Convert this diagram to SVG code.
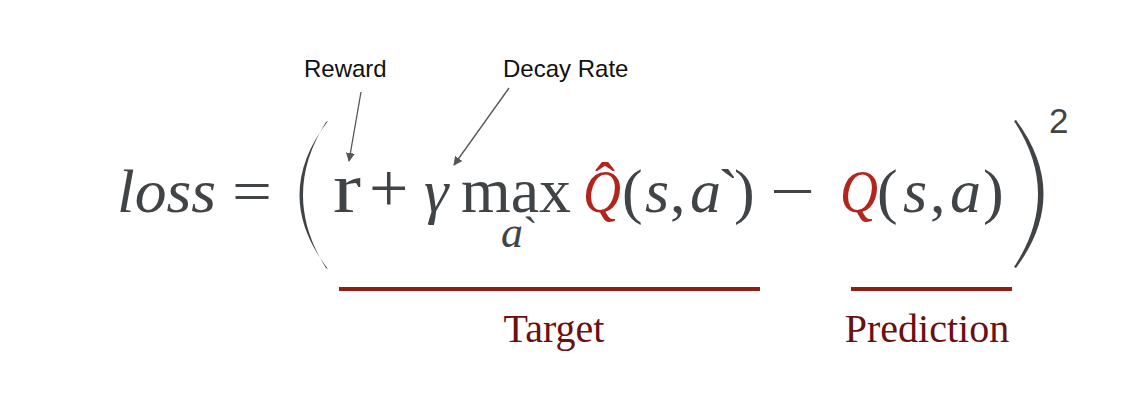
<svg xmlns="http://www.w3.org/2000/svg" width="1132" height="408" viewBox="0 0 1132 408">
<defs>
<style>
.m{font-family:"Liberation Serif","DejaVu Serif",serif;font-size:62px;fill:#404446}
.it{font-style:italic}
.red{fill:#b3241d}
.lbl{font-family:"Liberation Sans",Arial,sans-serif;font-size:24px;fill:#111}
.cap{font-family:"Liberation Serif","DejaVu Serif",serif;font-size:40px;fill:#6b1010;text-anchor:middle}
.par{fill:#404446}
.ul{fill:#8e2117}
.arr{stroke:#555;stroke-width:1.3;fill:none;marker-end:url(#ah)}
</style>
<marker id="ah" viewBox="0 0 10 10" refX="9" refY="5" markerWidth="9" markerHeight="9" markerUnits="userSpaceOnUse" orient="auto">
<path d="M0,0 L10,5 L0,10 Z" fill="#555"/>
</marker>
</defs>
<rect width="1132" height="408" fill="#fff"/>

<g id="formula">
<text class="m it" x="117" y="212" textLength="99" lengthAdjust="spacingAndGlyphs">loss</text>
<text class="m" x="232" y="212" textLength="40" lengthAdjust="spacingAndGlyphs">=</text>
<path class="par" d="M328,121 Q271,195 328,269 L326,268 Q280,195 326,122 Z"/>
<text class="m" x="333" y="212" style="font-size:72px" textLength="28" lengthAdjust="spacingAndGlyphs">r</text>
<text class="m" x="369" y="212" style="font-size:70px">+</text>
<text class="m it" x="424" y="212">γ</text>
<text class="m" x="461" y="212" style="font-size:64px" textLength="110" lengthAdjust="spacingAndGlyphs">max</text>
<text class="m it" x="501" y="247" style="font-size:44px">a<tspan font-style="normal">`</tspan></text>
<text class="m it red" x="583" y="212" textLength="38" lengthAdjust="spacingAndGlyphs">Q</text>
<text class="m red" x="595" y="203" style="font-size:60px">ˆ</text>
<text class="m" y="212"><tspan x="622">(</tspan><tspan x="645" font-style="italic">s</tspan><tspan x="670">,</tspan><tspan x="690" font-style="italic">a</tspan><tspan x="718">`</tspan><tspan x="734">)</tspan></text>
<text class="m" x="770" y="212" textLength="45" lengthAdjust="spacingAndGlyphs">−</text>
<text class="m it red" x="840" y="212" textLength="38" lengthAdjust="spacingAndGlyphs">Q</text>
<text class="m" y="212"><tspan x="877">(</tspan><tspan x="903" font-style="italic">s</tspan><tspan x="930">,</tspan><tspan x="950" font-style="italic">a</tspan><tspan x="983">)</tspan></text>
<path class="par" d="M1016,120 Q1071,194 1016,268 L1014,267 Q1062,194 1014,121 Z"/>
<text x="1049" y="133" style="font-family:'Liberation Sans',Arial,sans-serif;font-size:35px;fill:#404446">2</text>
</g>

<g id="reward">
<text class="lbl" x="304" y="77">Reward</text>
</g>
<g id="decay">
<text class="lbl" x="503" y="77">Decay Rate</text>
</g>
<g id="target">
<rect class="ul" x="339" y="287" width="421" height="4"/>
<text class="cap" x="554" y="342">Target</text>
</g>
<g id="prediction">
<rect class="ul" x="851" y="287" width="161" height="4"/>
<text class="cap" x="927" y="342">Prediction</text>
</g>

<g id="connectors">
<line class="arr" x1="361" y1="92" x2="349" y2="161"/>
<line class="arr" x1="509" y1="88" x2="454" y2="165"/>
</g>
</svg>
